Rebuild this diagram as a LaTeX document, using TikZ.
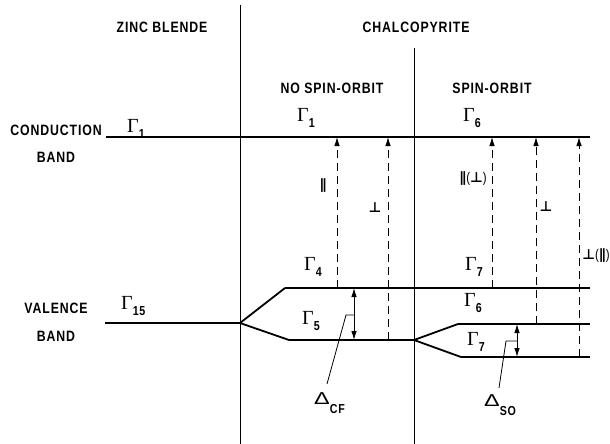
\documentclass[tikz,border=0pt]{standalone}
\usepackage{fontspec}
\newfontfamily\labfont[FakeStretch=0.82,LetterSpace=6]{Liberation Sans}
\newfontfamily\symfont{DejaVu Sans}
\newfontfamily\gamfont{Liberation Serif}
\usetikzlibrary{calc, arrows.meta, positioning}

\tikzset{
  lab/.style={font=\labfont\bfseries\fontsize{15}{15}\selectfont, inner sep=0pt},
  gam/.style={anchor=base west, inner sep=0pt},
  pol/.style={font=\symfont\bfseries\fontsize{14}{14}\selectfont, inner sep=0pt},
  level/.style={line width=1.3pt},
  branch/.style={line width=1.8pt},
  divider/.style={line width=0.8pt},
  trans/.style={->, line width=0.9pt, dash pattern=on 8pt off 5pt},
  split/.style={<->, line width=0.9pt},
  leader/.style={line width=0.8pt}
}
\newcommand{\gam}[1]{{\gamfont\fontsize{20}{20}\selectfont Γ}\raisebox{-6pt}{\labfont\bfseries\fontsize{13}{13}\selectfont #1}}
\newcommand{\dlt}[1]{\scalebox{1.9}[1.15]{\labfont\fontsize{15}{15}\selectfont Δ}\raisebox{-9pt}{\labfont\bfseries\fontsize{13}{13}\selectfont #1}}

\begin{document}
\begin{tikzpicture}[x=1pt, y=-1pt, >={Latex[length=9pt,width=5.5pt]}]
    \useasboundingbox (0,0) rectangle (610,444);

    % Column headings
    \node[lab] (zb) at (162,27) {ZINC BLENDE};
    \node[lab] (ch) at (416,27) {CHALCOPYRITE};
    \node[lab] (nso) at (332,88) {NO SPIN-ORBIT};
    \node[lab] (so) at (492,88) {SPIN-ORBIT};
    \node[lab] (cb1) at (56,130) {CONDUCTION};
    \node[lab] (cb2) at (56,157) {BAND};
    \node[lab] (vb1) at (56,308) {VALENCE};
    \node[lab] (vb2) at (56,336) {BAND};

    % Dividing lines
    \coordinate (d1t) at (240,5);   \coordinate (d1b) at (240,444);
    \coordinate (d2t) at (414,48);  \coordinate (d2b) at (414,444);
    \draw[divider] (d1t) -- (d1b);
    \draw[divider] (d2t) -- (d2b);

    % Levels
    \coordinate (cbL) at (106,137); \coordinate (cbR) at (590,137);
    \coordinate (vbL) at (105,323); \coordinate (vbS) at (240,323);
    \coordinate (g4a) at (285,288); \coordinate (g4b) at (590,288);
    \coordinate (g5a) at (289,340); \coordinate (g5b) at (414,340);
    \coordinate (g6a) at (458,324); \coordinate (g6b) at (590,324);
    \coordinate (g7a) at (461,357); \coordinate (g7b) at (590,357);
    \draw[level] (cbL) -- (cbR);
    \draw[level] (vbL) -- (vbS);
    \draw[branch] (vbS) -- (g4a);
    \draw[branch] (vbS) -- (g5a);
    \draw[level] (g4a) -- (g4b);
    \draw[level] (g5a) -- (g5b);
    \draw[branch] (g5b) -- (g6a);
    \draw[branch] (g5b) -- (g7a);
    \draw[level] (g6a) -- (g6b);
    \draw[level] (g7a) -- (g7b);

    % Level labels
    \node[gam] (G1a) at (127,132) {\gam{1}};
    \node[gam] (G1b) at (297,121) {\gam{1}};
    \node[gam] (G6a) at (463,121) {\gam{6}};
    \node[gam] (G15) at (121,309) {\gam{15}};
    \node[gam] (G4)  at (304,270) {\gam{4}};
    \node[gam] (G5)  at (302,324) {\gam{5}};
    \node[gam] (G7a) at (465,270) {\gam{7}};
    \node[gam] (G6b) at (464,306) {\gam{6}};
    \node[gam] (G7b) at (467,345) {\gam{7}};

    % Optical transitions
    \foreach \n/\xx/\yy in {1/337/288, 2/388/340, 3/492/288, 4/536/324, 5/579/357} {
        \coordinate (b\n) at (\xx,\yy);
        \coordinate (t\n) at (\xx,137);
        \draw[trans] (b\n) -- (t\n);
    }
    \node[pol] (p1) at (323,186) {∥};
    \node[pol] (p2) at (375,208) {⊥};
    \node[pol] (p3) at (473,179) {∥{\labfont\mdseries(}⊥{\labfont\mdseries)}};
    \node[pol] (p4) at (546,207) {⊥};
    \node[pol] (p5) at (596,256) {⊥{\labfont\mdseries(}∥{\labfont\mdseries)}};

    % Splittings
    \coordinate (cfT) at (354,288); \coordinate (cfB) at (354,340);
    \coordinate (soT) at (517,324); \coordinate (soB) at (517,357);
    \draw[split] (cfT) -- (cfB);
    \draw[split] (soT) -- (soB);
    \node[anchor=north west, inner sep=0pt] (dcf) at (314,392) {\dlt{CF}};
    \node[anchor=north west, inner sep=0pt] (dso) at (484,394) {\dlt{SO}};
    \coordinate (cfk) at (346,315); \coordinate (cfe) at (327,384);
    \coordinate (sok) at (506,341); \coordinate (soe) at (499,388);
    \draw[leader] (354,315) -- (cfk) -- (cfe);
    \draw[leader] (517,341) -- (sok) -- (soe);
\end{tikzpicture}
\end{document}
